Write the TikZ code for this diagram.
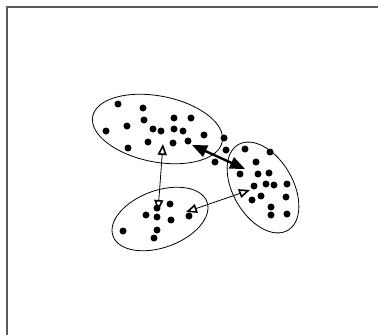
\documentclass[tikz,border=0pt]{standalone}
\usetikzlibrary{arrows.meta,shapes.geometric}
\begin{document}
\begin{tikzpicture}[x=1pt,y=-1pt,
  dot/.style={fill=black,circle,inner sep=0pt,minimum size=7pt},
  cluster/.style={draw=black,line width=0.8pt,ellipse,inner sep=0pt},
  thinarrow/.style={line width=0.8pt,{Triangle[open,length=11pt,width=9pt,line width=1.6pt]}-{Triangle[open,length=11pt,width=9pt,line width=1.6pt]}},
  thickarrow/.style={line width=2.4pt,{Triangle[length=15pt,width=12pt]}-{Triangle[length=15pt,width=12pt]}},
  frameline/.style={draw=black!65,line width=1.5pt}]
\useasboundingbox (0,0) rectangle (378,335);
\draw[frameline] (7,335) -- (7,7) -- (378,7);
% clusters
\node[cluster,minimum width=132pt,minimum height=66pt,rotate=-11] (c1) at (157.5,129) {};
\node[cluster,minimum width=99pt,minimum height=60pt,rotate=-60] (c2) at (263,187.5) {};
\node[cluster,minimum width=100pt,minimum height=57pt,rotate=20] (c3) at (160,219) {};
% dots
\foreach \p [count=\i] in {(118,104),(143,108),(144,120),(127,126),(106,131),(174,118),(191,118),(153,129),(161,131),(174,129),(183,131),(204,135),(148,142),(173,143),(188,141),(128,148),
  (224,138),(226,150),(215,162),
  (245,149),(270,152),(256,162),(240,174),(258,174),(269,173),(254,186),(266,184),(274,185),(287,184),(261,196),(252,200),(286,197),(271,207),(271,215),(287,214),
  (170,204),(146,215),(157,217),(171,220),(189,216),(123,231),(157,230),(154,238),(157,208)}
  \node[dot] (d\i) at \p {};
% arrow ends
\coordinate (a1) at (163,144);
\coordinate (a3) at (158,211);
\coordinate (b3) at (186,212);
\coordinate (b2) at (250,190);
\coordinate (t1) at (192,145);
\coordinate (t2) at (245,169);
\draw[thinarrow] (a1) -- (a3);
\draw[thinarrow] (b3) -- (b2);
\draw[thickarrow] (t1) -- (t2);
\end{tikzpicture}
\end{document}
